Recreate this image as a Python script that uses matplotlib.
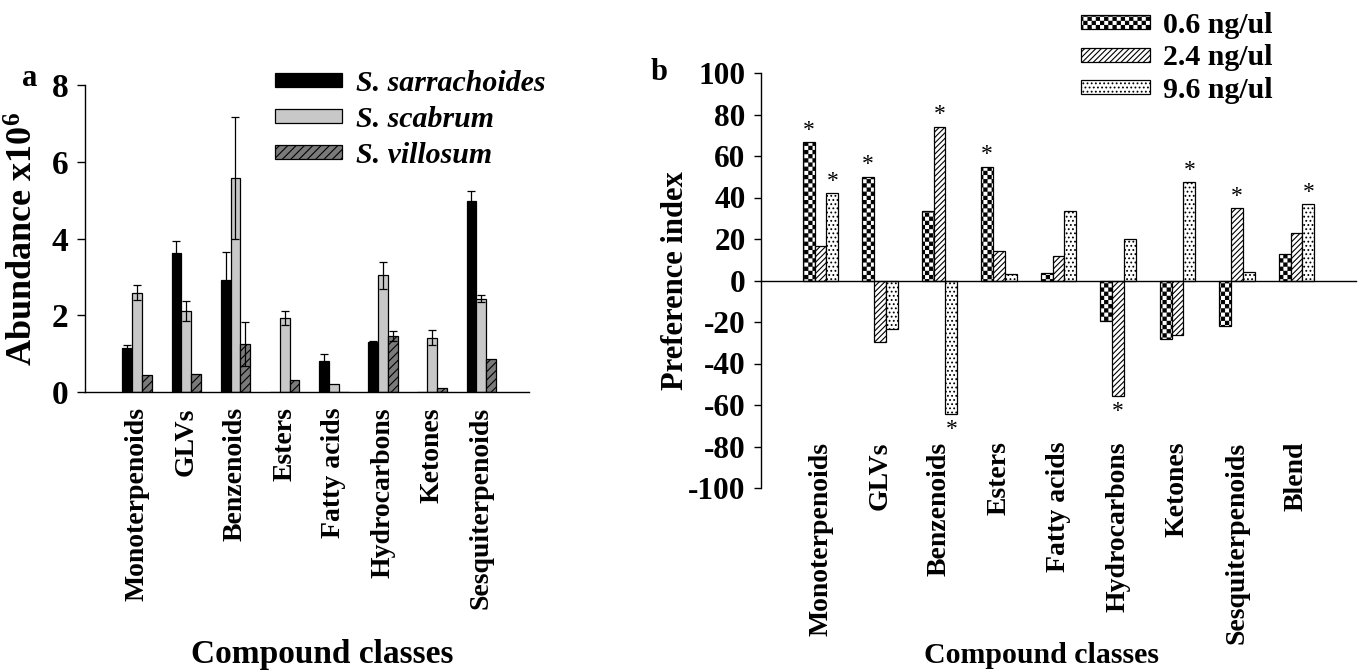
import warnings
warnings.filterwarnings("ignore")
import numpy as np
import matplotlib
matplotlib.use("Agg")
import matplotlib.pyplot as plt
import matplotlib.hatch as mhatch
from matplotlib.path import Path
from matplotlib.patches import Patch

# ---------------- data ----------------
classes_a = ["Monoterpenoids", "GLVs", "Benzenoids", "Esters", "Fatty acids",
             "Hydrocarbons", "Ketones", "Sesquiterpenoids"]
sarrachoides = [1.15, 3.61, 2.92, 0.0, 0.82, 1.30, 0.0, 4.98]
sarrachoides_err = [0.08, 0.32, 0.73, 0.0, 0.18, 0.04, 0.0, 0.25]
scabrum = [2.59, 2.11, 5.58, 1.93, 0.21, 3.04, 1.42, 2.43]
scabrum_err = [0.19, 0.26, 1.59, 0.19, 0.0, 0.35, 0.19, 0.09]
villosum = [0.43, 0.46, 1.26, 0.30, 0.0, 1.45, 0.11, 0.87]
villosum_err = [0.0, 0.0, 0.57, 0.0, 0.0, 0.13, 0.0, 0.0]
species = ["S. sarrachoides", "S. scabrum", "S. villosum"]

classes_b = ["Monoterpenoids", "GLVs", "Benzenoids", "Esters", "Fatty acids",
             "Hydrocarbons", "Ketones", "Sesquiterpenoids", "Blend"]
dose_06 = [66.6, 50.1, 33.7, 54.9, 3.4, -19.3, -28.3, -21.8, 13.0]
dose_24 = [16.5, -29.4, 74.2, 14.3, 12.0, -55.9, -26.5, 34.8, 23.0]
dose_96 = [42.1, -23.4, -64.5, 3.2, 33.7, 20.2, 47.4, 4.2, 36.8]
sig_06 = [True, True, False, True, False, False, False, False, False]
sig_24 = [False, False, True, False, False, True, False, True, False]
sig_96 = [True, False, True, False, False, False, True, False, True]
doses = ["0.6 ng/ul", "2.4 ng/ul", "9.6 ng/ul"]


# ---------------- checkerboard hatch ----------------
class CheckerHatch(mhatch.HatchPatternBase):
    def __init__(self, hatch, density):
        n = hatch.count('c')
        self.n = 2 * int(round(n * density / 2.0)) if n else 0
        self.num_vertices = (self.n * self.n // 2) * 5 if self.n else 0

    def set_vertices_and_codes(self, vertices, codes):
        s = 1.0 / self.n
        d = s * 0.12
        k = 0
        for i in range(self.n):
            for j in range(self.n):
                if (i + j) % 2 == 0:
                    x0, y0 = j * s + d, i * s + d
                    x1, y1 = (j + 1) * s - d, (i + 1) * s - d
                    vertices[k:k + 5] = [(x0, y0), (x1, y0), (x1, y1), (x0, y1), (x0, y0)]
                    codes[k] = Path.MOVETO
                    codes[k + 1:k + 4] = Path.LINETO
                    codes[k + 4] = Path.CLOSEPOLY
                    k += 5


mhatch._hatch_types.append(CheckerHatch)

# ---------------- style ----------------
plt.rcParams['font.family'] = ['Liberation Serif', 'DejaVu Serif']
plt.rcParams['font.weight'] = 'bold'
plt.rcParams['axes.labelweight'] = 'bold'
plt.rcParams['axes.unicode_minus'] = False
plt.rcParams['mathtext.fontset'] = 'custom'
plt.rcParams['mathtext.rm'] = 'Liberation Serif:bold'
plt.rcParams['mathtext.it'] = 'Liberation Serif:bold'
plt.rcParams['mathtext.default'] = 'rm'
plt.rcParams['hatch.linewidth'] = 0.8

W, H = 1362, 672
fig = plt.figure(figsize=(W / 100, H / 100), dpi=100)

# ---------------- panel a ----------------
axA = fig.add_axes([85 / W, 1 - 392 / H, (529 - 85) / W, (392 - 85) / H])
x = np.arange(len(classes_a))
bw = 0.2
styles_a = [dict(color='black', edgecolor='black'),
            dict(color='#c8c8c8', edgecolor='black'),
            dict(color='#7a7a7a', edgecolor='black', hatch='////')]
vals_a = [sarrachoides, scabrum, villosum]
errs_a = [sarrachoides_err, scabrum_err, villosum_err]
handles_a = []
for i, (v, e, st) in enumerate(zip(vals_a, errs_a, styles_a)):
    xs = x + (i - 1) * bw
    axA.bar(xs, v, width=bw, linewidth=0.9, zorder=2, **st)
    m = np.array(e) > 0
    axA.errorbar(xs[m], np.array(v)[m], yerr=np.array(e)[m], fmt='none',
                 ecolor='black', elinewidth=0.9, capsize=3, capthick=0.9, zorder=3)
    handles_a.append(Patch(facecolor=st['color'], edgecolor='black', hatch=st.get('hatch'),
                           linewidth=0.9, label=species[i]))

axA.set_xlim(-1.06, 7.97)
axA.set_ylim(0, 8)
axA.set_yticks([0, 2, 4, 6, 8])
axA.set_xticks(x)
axA.set_xticklabels(classes_a, rotation=90, fontsize=20, va='top', ha='center')
axA.tick_params(axis='x', length=0, pad=11)
axA.tick_params(axis='y', direction='out', length=6, width=1, labelsize=24, pad=6)
for s in ['top', 'right']:
    axA.spines[s].set_visible(False)
for s in ['left', 'bottom']:
    axA.spines[s].set_linewidth(1)
axA.set_ylabel('Abundance x10$^{6}$', fontsize=26)
axA.yaxis.set_label_coords(-0.10, 0.5)
axA.set_xlabel('Compound classes', fontsize=24)
axA.xaxis.set_label_coords(0.535, -0.805)
axA.legend(handles=handles_a, loc='upper left', bbox_to_anchor=(275 / W, 1 - 70 / H),
           bbox_transform=fig.transFigure, frameon=False,
           prop={'family': 'Liberation Serif', 'style': 'italic', 'weight': 'bold', 'size': 21.5},
           handlelength=2.25, handleheight=0.33, handletextpad=0.45, labelspacing=0.3,
           borderaxespad=0, borderpad=0)
fig.text(30 / W, 1 - 79 / H, 'a', fontsize=22, fontweight='bold', ha='center', va='center')

# ---------------- panel b ----------------
axB = fig.add_axes([761 / W, 1 - 488 / H, (1356 - 761) / W, (488 - 73) / H])
xb = np.arange(len(classes_b))
styles_b = [dict(color='white', edgecolor='black', hatch='cccc'),
            dict(color='white', edgecolor='black', hatch='//////'),
            dict(color='white', edgecolor='black', hatch='....')]
vals_b = [dose_06, dose_24, dose_96]
sigs_b = [sig_06, sig_24, sig_96]
handles_b = []
for i, (v, sg, st) in enumerate(zip(vals_b, sigs_b, styles_b)):
    xs = xb + (i - 1) * bw
    axB.bar(xs, v, width=bw, linewidth=0.9, zorder=2, **st)
    for xi, vi, s in zip(xs, v, sg):
        if s:
            axB.annotate('*', xy=(xi, vi), xytext=(0, 1 if vi > 0 else -3),
                         textcoords='offset points', ha='center',
                         va='bottom' if vi > 0 else 'top', fontsize=17,
                         fontweight='normal', fontfamily='Liberation Serif')
    handles_b.append(Patch(facecolor='white', edgecolor='black', hatch=st['hatch'],
                           linewidth=0.9, label=doses[i]))

axB.set_xlim(-1, 9)
axB.set_ylim(-100, 100)
axB.set_yticks(np.arange(-100, 101, 20))
axB.spines['bottom'].set_position(('data', 0))
for s in ['top', 'right']:
    axB.spines[s].set_visible(False)
for s in ['left', 'bottom']:
    axB.spines[s].set_linewidth(1)
axB.set_xticks(xb)
axB.set_xticklabels(classes_b, rotation=90, fontsize=20, va='top', ha='center')
axB.tick_params(axis='x', length=0, pad=116)
axB.tick_params(axis='y', direction='out', length=5, width=1, labelsize=22.5, pad=6)
axB.set_ylabel('Preference index', fontsize=22)
axB.yaxis.set_label_coords(-0.12, 0.5)
axB.set_xlabel('Compound classes', fontsize=21.5)
axB.xaxis.set_label_coords(0.472, -0.372)
axB.legend(handles=handles_b, loc='upper left', bbox_to_anchor=(1081 / W, 1 - 12 / H),
           bbox_transform=fig.transFigure, frameon=False,
           prop={'family': 'Liberation Serif', 'weight': 'bold', 'size': 21.5},
           handlelength=2.3, handleheight=0.35, handletextpad=0.45, labelspacing=0.18,
           borderaxespad=0, borderpad=0)
fig.text(659 / W, 1 - 72 / H, 'b', fontsize=22, fontweight='bold', ha='center', va='center')

fig.savefig('out.png', dpi=100)
